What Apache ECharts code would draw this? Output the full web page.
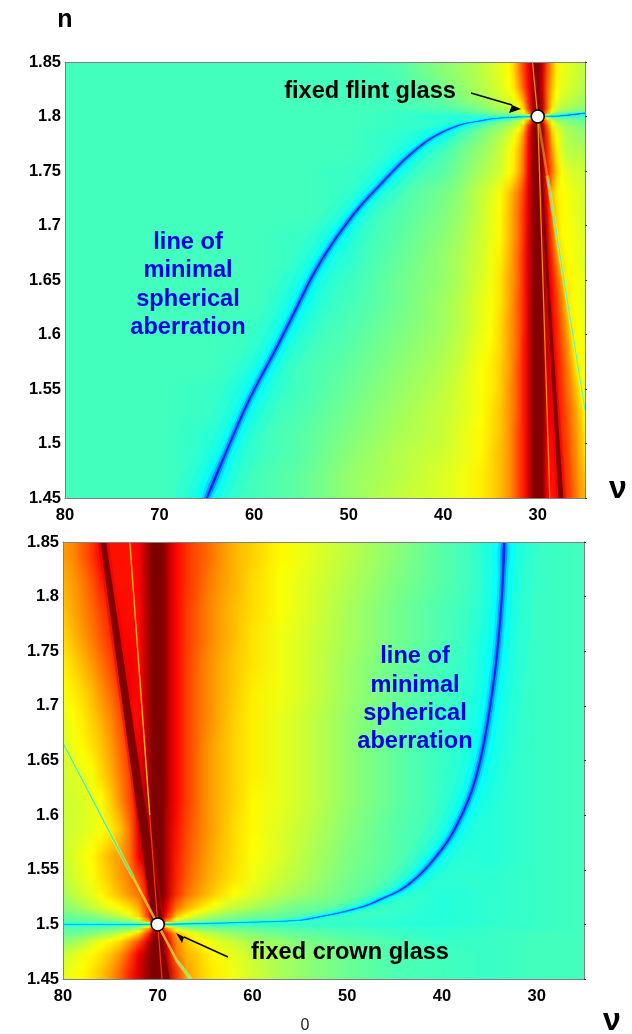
<!DOCTYPE html>
<html><head><meta charset="utf-8">
<style>html,body{margin:0;padding:0;background:#fff}#c{width:632px;height:1034px}</style>
<script src="https://cdn.jsdelivr.net/npm/echarts@6/dist/echarts.min.js"></script>
</head><body><div id="c"></div>
<script>
const nuTicks=[80,70,60,50,40,30];
const nTicks=[1.45,1.5,1.55,1.6,1.65,1.7,1.75,1.8,1.85];

// top panel: field level (percent of colour scale) per n band and nu column
const flintCols=[80,70,65,60,55,50,45,40,38,36,35,34,33,32.5,32,31.5,31,30.5,30,29.5,29,28.5,28,27.5,27,26.5,26,25.5,25];
const flintEdges=[1.85,1.835,1.82,1.81,1.805,1.802,1.798,1.795,1.79,1.78,1.76,1.74,1.72,1.70,1.68,1.66,1.64,1.62,1.60,1.58,1.56,1.54,1.52,1.50,1.48,1.465,1.45];
const flintRows=[
[44,44,44,44,44,44,45,51,53,56,58,60,63,67,74,81,88,97,100,93,80,71,64,61,60,59,58,57,56],
[44,44,44,44,44,44,44,49,52,55,57,59,62,65,71,79,87,96,100,92,78,69,63,60,59,58,57,56,55],
[44,44,44,44,44,44,44,47,50,53,55,57,59,61,65,72,84,96,100,94,78,66,61,58,57,56,55,54,53],
[44,44,44,44,44,44,44,45,47,50,52,54,56,58,61,67,82,96,100,96,78,64,58,55,54,53,52,52,51],
[44,44,44,44,44,44,43,43,44,46,48,50,51,53,55,59,72,88,100,88,70,58,52,50,49,48,48,47,47],
[44,44,44,44,44,44,43,41,41,42,43,44,45,46,47,48,52,60,70,60,50,46,45,45,45,44,44,44,44],
[44,44,44,44,44,44,43,42,42,44,46,48,50,52,54,59,72,88,100,88,70,58,53,51,50,49,48,48,48],
[44,44,44,44,44,44,43,42,44,47,49,51,54,56,59,67,82,96,100,96,78,64,58,55,53,52,51,50,50],
[44,44,44,44,44,44,42,41,45,49,52,54,58,61,65,73,86,98,100,97,82,68,61,58,55,54,53,52,52],
[44,44,44,44,44,44,42,44,48,52,54,57,61,64,69,76,87,98,100,97,84,73,64,59,56,55,55,55,54],
[44,44,44,44,44,43,42,46,50,54,56,58,62,65,70,77,88,98,100,97,86,77,68,62,60,59,58,58,57],
[44,44,44,44,44,43,44,49,52,57,59,62,68,72,76,82,90,98,100,98,86,70,64,63,62,61,60,59,58],
[44,44,44,44,44,43,45,50,53,57,60,63,69,73,77,83,90,98,100,98,90,76,66,63,62,61,60,59,58],
[44,44,44,44,43,42,46,51,54,58,60,63,69,73,77,83,91,98,100,99,92,80,68,63,62,62,61,60,59],
[44,44,44,44,43,42,47,52,55,58,61,64,70,74,78,84,91,98,100,99,93,84,74,66,63,62,61,60,59],
[44,44,44,44,42,43,48,52,55,59,61,65,71,74,78,84,91,98,100,99,92,87,79,72,64,63,62,61,60],
[44,44,44,44,41,44,48,53,56,60,62,65,71,75,79,84,91,99,100,99,92,88,82,76,68,63,62,61,60],
[44,44,44,43,42,45,49,53,56,60,62,66,72,75,79,84,91,99,100,99,92,88,84,78,72,65,63,62,61],
[44,44,44,43,43,46,50,54,57,61,63,66,72,75,79,85,91,99,100,99,92,88,85,80,75,68,63,62,61],
[44,44,44,42,44,47,51,55,58,62,64,67,72,76,80,85,91,99,100,99,92,88,86,82,77,72,65,63,62],
[44,44,43,41,44,48,52,56,59,62,64,67,73,76,80,85,91,99,100,99,92,88,86,83,78,74,69,64,63],
[44,44,43,42,45,49,53,57,59,62,65,68,73,76,80,85,91,99,100,99,91,88,86,84,80,76,72,67,62],
[44,44,42,43,46,50,54,57,60,63,65,68,73,77,81,85,91,99,100,99,90,87,86,84,81,77,73,69,64],
[44,44,42,43,46,51,55,58,60,63,66,69,73,77,81,85,91,99,100,99,89,87,86,85,82,78,74,70,66],
[44,44,42,44,47,52,55,59,61,64,66,69,73,77,81,85,91,99,100,99,88,86,86,85,83,79,75,71,68],
[44,44,42,44,47,52,56,59,61,64,66,69,73,77,81,85,91,99,100,100,88,86,86,85,83,80,76,72,70]
];
// bottom panel
const crownCols=[80,79,78,77,76,75,74,73,72,71,70.5,70,69.5,69,68,67,66,65,64,62,60,57,55,50,45,40,35,30,25];
const crownEdges=[1.85,1.825,1.80,1.775,1.75,1.725,1.70,1.675,1.65,1.625,1.60,1.575,1.55,1.535,1.52,1.51,1.505,1.502,1.498,1.495,1.49,1.48,1.465,1.45];
const crownRows=[
[72,74,78,82,88,86,86,86,88,97,100,100,100,95,87,83,80,78,75,70,67,63,61,56,51,46,42,43,44],
[70,72,75,79,84,86,86,86,88,97,100,100,100,95,87,83,80,77,74,70,66,62,60,55,50,46,42,43,44],
[68,71,74,77,81,85,87,86,87,96,100,100,100,95,87,82,79,76,73,69,66,62,60,54,49,45,42,43,44],
[66,69,72,75,79,83,87,87,87,96,100,100,100,95,87,82,79,76,73,69,65,61,59,54,49,45,41,43,44],
[64,66,69,72,76,80,85,89,87,96,100,100,100,95,87,82,78,75,72,68,65,61,59,53,48,44,41,43,44],
[62,64,66,69,73,77,82,88,87,96,100,100,100,95,87,82,78,75,72,68,64,61,59,53,48,44,41,43,44],
[60,62,64,67,70,74,79,85,87,96,100,100,100,95,87,82,78,75,72,67,64,60,58,52,47,43,41,43,44],
[58,61,63,65,68,72,77,83,88,96,100,100,100,95,87,82,78,74,71,67,64,60,58,52,47,43,41,43,44],
[58,59,60,62,66,70,75,81,88,96,100,100,100,95,87,82,78,74,71,67,64,60,58,52,47,43,41,43,44],
[58,58,59,60,62,67,73,80,88,97,100,100,100,95,87,82,78,74,71,67,63,60,58,52,47,43,41,43,44],
[57,58,59,60,62,64,68,76,90,98,100,100,100,94,86,81,77,74,71,66,63,59,57,51,46,43,41,43,44],
[57,59,61,63,66,70,72,76,88,99,100,100,100,94,85,80,76,73,70,66,62,59,56,50,46,42,41,43,44],
[56,58,60,62,65,68,72,75,80,90,100,100,100,94,84,79,75,72,69,65,61,57,55,49,45,42,42,43,44],
[53,56,58,60,63,66,69,73,76,88,100,100,100,94,83,77,73,70,67,62,59,55,53,48,44,41,42,43,44],
[50,52,54,56,58,60,62,65,70,84,97,100,97,88,76,70,66,63,60,56,54,50,48,46,43,41,42,43,44],
[48,48,49,50,52,54,56,60,66,82,95,100,95,84,68,62,58,55,53,50,48,47,46,44,42,41,42,43,44],
[46,46,46,47,47,48,49,50,54,70,85,100,85,72,56,52,50,49,48,47,46,45,44,43,42,41,42,43,44],
[42,42,42,42,42,43,43,44,45,47,55,66,55,46,45,44,44,44,43,43,43,42,42,42,41,41,42,43,44],
[46,46,46,47,47,48,49,50,54,70,85,100,85,72,58,53,51,50,49,48,47,46,45,44,43,42,43,43,44],
[48,48,49,50,52,54,57,61,67,82,95,100,95,84,70,64,60,57,55,52,50,48,47,45,43,42,43,44,44],
[51,53,55,58,61,63,66,72,80,92,100,100,100,90,74,68,64,62,60,57,54,52,50,47,45,43,43,44,44],
[57,59,61,63,65,68,73,80,89,97,100,100,100,92,76,70,68,65,63,60,57,54,52,48,45,44,43,44,44],
[60,61,63,65,68,72,77,84,91,98,100,100,100,96,82,72,69,66,64,61,58,54,52,48,45,44,43,44,44]
];

// features: [nu, n]
const flintBlue=[[65,1.45],[62.76,1.496],[60.43,1.5417],[57.58,1.5885],[55.46,1.6252],[53.77,1.6546],[51.97,1.6803],[50.17,1.7023],[48.48,1.7206],[46.68,1.7372],[44.88,1.7537],[43.19,1.7674],[41.39,1.7794],[39.6,1.7876],[37.9,1.7931],[36.11,1.7959],[35.05,1.7977],[32.19,1.7995],[30,1.8],[27.64,1.8005],[25,1.8032]];
const crownBlue=[[33.43,1.85],[33.54,1.8216],[33.75,1.7905],[34.17,1.7483],[34.7,1.7117],[35.44,1.6714],[36.28,1.6385],[37.34,1.611],[39.13,1.5798],[40.93,1.5588],[42.62,1.5432],[44.41,1.5313],[46.21,1.524],[47.9,1.5176],[49.69,1.513],[51.49,1.5093],[53.18,1.5066],[54.97,1.5038],[60.25,1.502],[70,1.5],[80,1.5]];
const flintRidgeUp=[[30,1.8],[30.35,1.85]];
const flintRidgeDown=[[30,1.8],[27.55,1.45]];
const flintThin=[[30.55,1.85],[30,1.8],[28.72,1.45]];
const flintNullNear=[[30,1.8],[29.0,1.746]];
const flintNullFar=[[29.0,1.746],[25,1.531]];
const crownRidgeUp=[[75.75,1.85],[70,1.5]];
const crownRidgeDown=[[70,1.5],[69.1,1.45]];
const crownThinUpper=[[72.95,1.85],[70.84,1.6]];
const crownThinLower=[[70.84,1.6],[70,1.5],[69.55,1.45]];
const crownNullFarUp=[[80,1.666],[72.6,1.543]];
const crownNullNear=[[72.6,1.543],[70,1.5],[68,1.467]];
const crownNullFarDown=[[68,1.467],[66.5,1.45]];
const flintPoint=[30,1.8];
const crownPoint=[70,1.5];

const labelFont='"Liberation Sans",Arial,sans-serif';
function jet(v){const p=v/100;const c=x=>Math.round(255*Math.max(0,Math.min(1,1.5-Math.abs(4*p-x))));return 'rgb('+c(3)+','+c(2)+','+c(1)+')';}
// each band's colours are blended towards the next band's by the renderer, one pixel row at a time
function field(ax,cols,edges,rows){
  const mids=rows.map((r,i)=>(edges[i]+edges[i+1])/2);
  return {type:'custom',xAxisIndex:ax,yAxisIndex:ax,clip:true,silent:true,animation:false,
    data:rows.map((r,i)=>[cols[0],mids[i]]),encode:{x:0,y:1},
    renderItem(p,api){
      const i=p.dataIndex,last=rows.length-1;
      const Y=n=>Math.round(api.coord([80,n])[1]);
      const xL=api.coord([80,1.5])[0],xR=api.coord([25,1.5])[0];
      const offs=cols.map(nu=>(api.coord([nu,1.5])[0]-xL)/(xR-xL));
      const kids=[];
      const strip=(y,h,ra,rb,t)=>{
        const stops=offs.map((o,j)=>({offset:o,color:jet(ra[j]+(rb[j]-ra[j])*t)}));
        kids.push({type:'rect',shape:{x:xL,y:y,width:xR-xL,height:h},
          style:{fill:new echarts.graphic.LinearGradient(xL,0,xR,0,stops,true)}});
      };
      if(i===0){const a=Y(edges[0]),b=Y(mids[0]);if(b>a)strip(a,b-a,rows[0],rows[0],0);}
      if(i<last){
        const a=Y(mids[i]),b=Y(mids[i+1]);
        for(let y=a;y<b;y++)strip(y,1,rows[i],rows[i+1],(y-a)/(b-a));
      } else {
        const a=Y(mids[last]),b=Y(edges[last+1]);if(b>a)strip(a,b-a,rows[last],rows[last],0);
      }
      return {type:'group',children:kids};
    }};
}
// band of half-width h0..h1 (in nu) around a curve
function band(ax,pts,h0,h1,color,opacity,smooth){
  return {type:'custom',xAxisIndex:ax,yAxisIndex:ax,clip:true,silent:true,animation:false,data:pts,encode:{x:0,y:1},
    renderItem(p,api){
      if(p.dataIndex!==0) return {type:'group',children:[]};
      const m=pts.length-1,a=[],b=[];
      pts.forEach((q,i)=>{const h=h0+(h1-h0)*i/m;a.push(api.coord([q[0]+h,q[1]]));b.unshift(api.coord([q[0]-h,q[1]]));});
      return {type:'polygon',shape:{points:a.concat(b),smooth:smooth||0},style:{fill:color,opacity:opacity}};
    }};
}
function stroke(ax,pts,width,color,opacity,smooth){
  return {type:'custom',xAxisIndex:ax,yAxisIndex:ax,clip:true,silent:true,animation:false,data:pts,encode:{x:0,y:1},
    renderItem(p,api){
      if(p.dataIndex!==0) return {type:'group',children:[]};
      return {type:'polyline',shape:{points:pts.map(q=>api.coord(q)),smooth:smooth||0},style:{stroke:color,fill:null,lineWidth:width,opacity:opacity}};
    }};
}
function blue(ax,pts){
  const s=0.35;
  return [
    band(ax,pts,3.2,3.2,'#00ffff',0.14,s),band(ax,pts,2.0,2.0,'#00ffff',0.3,s),band(ax,pts,1.1,1.1,'#00ffff',0.7,s),
    stroke(ax,pts,2.6,'#00ffff',0.6,s),
    band(ax,pts,0.55,0.55,'#00d8ff',0.8,s),band(ax,pts,0.3,0.3,'#0090ff',0.9,s),
    stroke(ax,pts,1,'#00a0ff',0.8,s),
    band(ax,pts,0.11,0.11,'#0020ee',1,s)
  ];
}
function point(ax,q){return {type:'scatter',xAxisIndex:ax,yAxisIndex:ax,data:[q],symbolSize:13,silent:true,animation:false,z:20,
  itemStyle:{color:'#fff',borderColor:'#000',borderWidth:1.5,opacity:1}};}

function axes(grid){
  const line={show:true,lineStyle:{color:'#808080',width:1}};
  const x=[
   {gridIndex:grid,type:'value',min:25,max:80,inverse:true,position:'bottom',z:10,axisLine:{...line,onZero:false},splitLine:{show:false},axisTick:{show:false},
    axisLabel:{customValues:nuTicks,margin:9,color:'#000',fontFamily:labelFont,fontWeight:'bold',fontSize:16.5,formatter:v=>String(v)}},
   {gridIndex:grid,type:'value',min:25,max:80,inverse:true,position:'top',z:10,axisLine:{...line,onZero:false},splitLine:{show:false},axisTick:{show:false},axisLabel:{show:false}}];
  const y=[
   {gridIndex:grid,type:'value',min:1.45,max:1.85,position:'left',z:10,axisLine:{...line,onZero:false},splitLine:{show:false},axisTick:{show:false},
    axisLabel:{customValues:nTicks,margin:4,color:'#000',fontFamily:labelFont,fontWeight:'bold',fontSize:16.5,formatter:v=>String(+v.toFixed(2))}},
   {gridIndex:grid,type:'value',min:1.45,max:1.85,position:'right',z:10,axisLine:{...line,onZero:false},splitLine:{show:false},
    axisTick:{show:true,customValues:nTicks,length:2,lineStyle:{color:'#303030'}},axisLabel:{show:false}}];
  return {x,y};
}
const a0=axes(0),a1=axes(1);
function txt(x,y,text,size,color,align,weight){
  return {type:'text',z:50,silent:true,style:{x,y,text,fill:color,align:align||'center',verticalAlign:'middle',
    font:(weight||'bold')+' '+size+'px '+labelFont}};
}
function arrow(x0,y0,x1,y1,a,b,c,d){
  return [{type:'polyline',z:50,silent:true,shape:{points:[[x0,y0],[x1,y1]]},style:{stroke:'#000',lineWidth:1.4,fill:null}},
    {type:'polygon',z:50,silent:true,shape:{points:[[x1,y1],[a,b],[c,d]]},style:{fill:'#000'}}];
}
const chart=echarts.init(document.getElementById('c'),null,{renderer:'canvas'});
chart.setOption({
  animation:false,backgroundColor:'#fff',
  grid:[{left:65,top:62,width:520,height:436},{left:63,top:542,width:521,height:437}],
  xAxis:[...a0.x,...a1.x],
  yAxis:[...a0.y,...a1.y],
  series:[
    field(0,flintCols,flintEdges,flintRows),
    band(0,flintRidgeDown,0.06,0.55,'#d80000',0.45),
    band(0,flintRidgeDown,0.06,0.26,'#800000',1),
    band(0,flintRidgeUp,0.05,0.25,'#900000',1),
    stroke(0,flintThin,1.3,'#ff9a00',0.9),
    stroke(0,flintNullNear,2.5,'#ffff30',0.4),
    stroke(0,flintNullFar,3.5,'#ffff20',0.5),
    stroke(0,flintNullFar,1.2,'#40ffd0',0.9),
    ...blue(0,flintBlue),
    point(0,flintPoint),

    field(2,crownCols,crownEdges,crownRows),
    band(2,crownRidgeUp,0.6,0.75,'#d80000',0.45),
    band(2,crownRidgeUp,0.3,0.55,'#800000',1),
    band(2,crownRidgeDown,0.05,0.4,'#800000',1),
    stroke(2,crownThinUpper,1.4,'#ffb800',1),
    stroke(2,crownThinLower,1.2,'#ff4000',0.9),
    stroke(2,crownNullFarUp,3.5,'#ffff20',0.55),
    stroke(2,crownNullNear,2.5,'#f0ff40',0.65),
    stroke(2,crownNullFarDown,3.5,'#ffff20',0.55),
    stroke(2,crownNullFarUp,1.2,'#20f0e0',0.95),
    stroke(2,crownNullFarDown,1.2,'#40ffd0',0.9),
    ...blue(2,crownBlue),
    point(2,crownPoint)
  ],
  graphic:{elements:[
    txt(65,20,'n',25,'#000'),
    txt(618,489,'ν',32,'#000'),
    txt(612,1021,'ν',32,'#000'),
    txt(305,1026,'0',16,'#222','center','normal'),
    txt(370,91,'fixed flint glass',23.6,'#000'),
    txt(350,952,'fixed crown glass',23.6,'#000'),
    txt(188,242,'line of',23.6,'#0000e6'),
    txt(188,270,'minimal',23.6,'#0000e6'),
    txt(188,299,'spherical',23.6,'#0000e6'),
    txt(188,327,'aberration',23.6,'#0000e6'),
    txt(415,656,'line of',23.6,'#0000e6'),
    txt(415,685,'minimal',23.6,'#0000e6'),
    txt(415,713,'spherical',23.6,'#0000e6'),
    txt(415,741,'aberration',23.6,'#0000e6'),
    ...arrow(471,93,512,105,521,109,509,113),
    ...arrow(228,957,184,937,176,933,182,943)
  ]}
});
</script></body></html>
